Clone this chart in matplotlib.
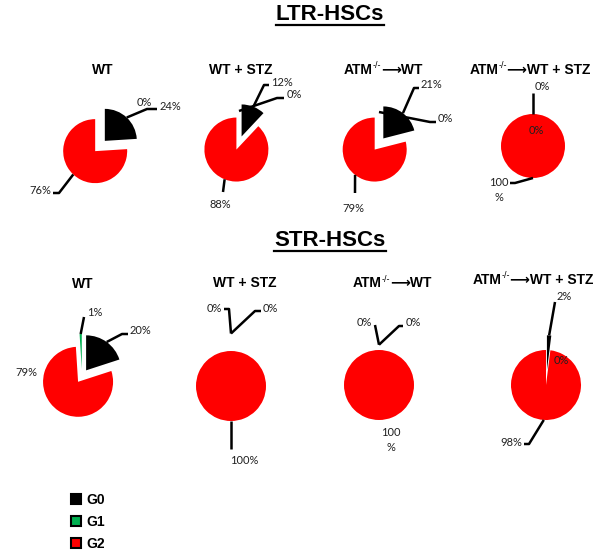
import numpy as np
import matplotlib.pyplot as plt
from matplotlib.patches import Patch

plt.rcParams['font.family'] = ['Liberation Sans', 'DejaVu Sans']

# % of cells in each cell-cycle phase
phases = ["G0", "G1", "G2"]
phase_colors = ["#000000", "#00b050", "#ff0000"]
groups = ["WT", "WT + STZ", "ATM-/-⟶WT", "ATM-/-⟶WT + STZ"]

ltr_g0 = [24, 12, 21, 0]
ltr_g1 = [0, 0, 0, 0]
ltr_g2 = [76, 88, 79, 100]

str_g0 = [20, 0, 0, 2]
str_g1 = [1, 0, 0, 0]
str_g2 = [79, 100, 100, 98]

# layout (pixels, y measured from top)
W, H = 604, 555
ltr_centers = [(100, 146), (239, 143), (379, 144), (533, 146)]
str_centers = [(82, 376), (231, 386), (379, 385), (546, 385)]
ltr_titles = [(103, 70), (241, 70), (383, 70), (530, 70)]
str_titles = [(83, 284), (245, 283), (392, 283), (533, 280)]
ltr_radius = 32
str_radius = 35
ltr_explode = [[0.22, 0, 0.22], [0.22, 0, 0.22], [0.22, 0, 0.22], [0, 0, 0]]
str_explode = [[0.2, 0.2, 0.2], [0.5, 0.5, 0], [0.15, 0.15, 0], [0.42, 0, 0]]

# label position, alignment, leader path, wrap
ltr_labels = [
    [(160, 107, "left", [(147, 109), (157, 109)], False),
     (137, 103, "left", None, False),
     (51, 191, "right", [(59, 193), (53, 193)], False)],
    [(271, 82, "left", [(264, 85), (269, 85)], False),
     (287, 94, "left", [(277, 98), (284, 98)], False),
     (220, 204, "center", [(223, 192)], False)],
    [(421, 85, "left", [(414, 88), (419, 88)], False),
     (438, 118, "left", [(430, 122), (436, 122)], False),
     (353, 208, "center", [(355, 193)], False)],
    [(535, 87, "left", [(533, 93)], False),
     (536, 130, "center", None, False),
     (499, 190, "center", [(515, 183), (510, 183)], True)],
]
str_labels = [
    [(130, 330, "left", [(122, 334), (128, 334)], False),
     (87, 313, "left", [(84, 317)], False),
     (26, 372, "center", None, False)],
    [(263, 308, "left", [(255, 311), (261, 311)], False),
     (222, 308, "right", [(229, 309), (224, 309)], False),
     (244, 461, "center", [(231, 449)], False)],
    [(406, 323, "left", [(399, 326), (403, 326)], False),
     (372, 322, "right", [(375, 325)], False),
     (391, 440, "center", None, True)],
    [(557, 296, "left", [(555, 302)], False),
     (561, 360, "center", None, False),
     (522, 443, "right", [(529, 444), (524, 444)], False)],
]

fig = plt.figure(figsize=(W / 100, H / 100), dpi=100)
ax = fig.add_axes([0, 0, 1, 1])
ax.set_xlim(0, W)
ax.set_ylim(0, H)
renderer = fig.canvas.get_renderer()


def draw_panel(vals, center, radius, explode, labels):
    order = [0, 2, 1]  # clockwise from 12 o'clock: G0, G2, G1
    cx, cy = center[0], H - center[1]
    wedges, _ = ax.pie([vals[i] for i in order],
                       colors=[phase_colors[i] for i in order],
                       radius=radius, center=(cx, cy),
                       startangle=90, counterclock=False,
                       wedgeprops=dict(linewidth=0))
    for w, i in zip(wedges, order):
        th = np.deg2rad((w.theta1 + w.theta2) / 2)
        d = explode[i] * radius
        w.set_center((cx + d * np.cos(th), cy + d * np.sin(th)))
        ax_x = w.center[0] + radius * np.cos(th)
        ax_y = w.center[1] + radius * np.sin(th)
        tx, ty, ha, path, wrap = labels[i]
        if path is not None:
            xs = [ax_x] + [p[0] for p in path]
            ys = [ax_y] + [H - p[1] for p in path]
            ax.plot(xs, ys, color="black", lw=1.8, solid_capstyle="butt")
        txt = f"{vals[i]}\n%" if wrap else f"{vals[i]}%"
        ax.text(tx, H - ty, txt, ha=ha, va="center", fontsize=8,
                family=["Lato", "DejaVu Sans"], multialignment="center",
                linespacing=1.5, color="#202020")


def group_title(name, x, y):
    # "ATM-/-" gets a small raised "-/-"
    if "-/-" in name:
        pre, post = name.split("-/-")
        parts = [(pre, 10, 0), ("-/-", 6.5, 4), (post, 10, 0)]
    else:
        parts = [(name, 10, 0)]
    texts = []
    for s, size, rise in parts:
        t = ax.text(0, H - y + rise, s, ha="left", va="center", fontsize=size,
                    fontweight="bold" if size == 10 else "normal")
        texts.append(t)
    widths = [t.get_window_extent(renderer).width for t in texts]
    x0 = x - sum(widths) / 2
    for t, wd in zip(texts, widths):
        t.set_x(x0)
        x0 += wd


for k in range(4):
    draw_panel([ltr_g0[k], ltr_g1[k], ltr_g2[k]], ltr_centers[k], ltr_radius,
               ltr_explode[k], ltr_labels[k])
    draw_panel([str_g0[k], str_g1[k], str_g2[k]], str_centers[k], str_radius,
               str_explode[k], str_labels[k])

ax.set_xlim(0, W)
ax.set_ylim(0, H)
ax.set_aspect("auto")
ax.axis("off")

for k in range(4):
    group_title(groups[k], *ltr_titles[k])
    group_title(groups[k], *str_titles[k])

titles = []
for label, y in [("LTR-HSCs", 15), ("STR-HSCs", 241)]:
    titles.append(ax.text(330, H - y, label, ha="center", va="center",
                          fontsize=16, fontweight="bold"))

fig.canvas.draw()
inv = ax.transData.inverted()
for t in titles:
    bb = t.get_window_extent()
    x0, y0 = inv.transform((bb.x0, bb.y0))
    x1, _ = inv.transform((bb.x1, bb.y0))
    ax.plot([x0, x1], [y0 + 1, y0 + 1], color="black", lw=1.6)

handles = [Patch(facecolor=c, edgecolor="black", linewidth=1.5) for c in phase_colors]
ax.legend(handles, phases, loc="upper left", bbox_to_anchor=(58 / W, 1 - 480 / H),
          frameon=False, prop=dict(weight="bold", size=10), handlelength=0.75,
          handleheight=0.75, labelspacing=0.6, handletextpad=0.4)

fig.savefig("out.png", dpi=100)
